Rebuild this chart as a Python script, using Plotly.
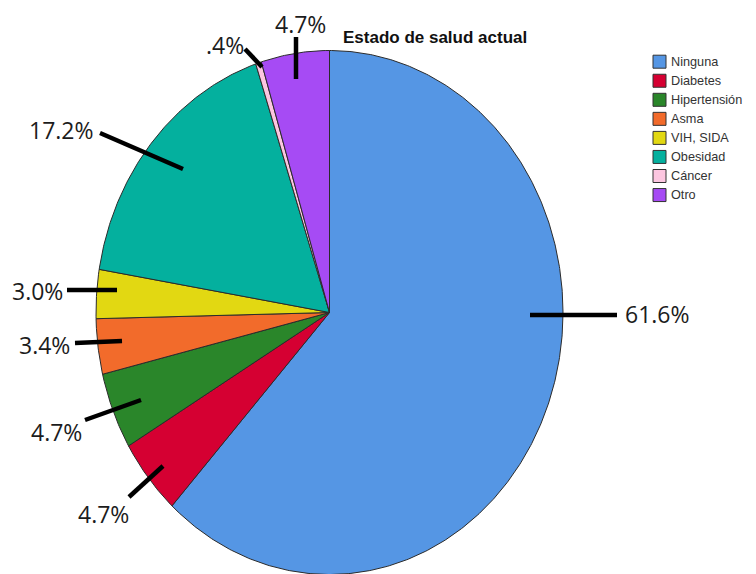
import numpy as np
import plotly.graph_objects as go

# Data: current health status (percent of respondents)
categories = ["Ninguna", "Diabetes", "Hipertensión", "Asma", "VIH, SIDA",
              "Obesidad", "Cáncer", "Otro"]
percentages = [61.6, 4.7, 4.7, 3.4, 3.0, 17.2, 0.4, 4.7]
title_text = "Estado de salud actual"

colors = ["#5596E4", "#D50032", "#2A862A", "#F26B2B", "#E2D812",
          "#04B09E", "#FCC6E0", "#A64BF4"]

# Canvas and pie geometry (pixels)
W, H = 756, 574
CX, CY = 329.5, 312.5      # pie centre
RX, RY = 233.5, 262.0      # horizontal / vertical radius (stretched pie)

# Label placement per slice: (leader inner end, leader outer end, text centre), in pixels
label_layout = [
    ((530, 315), (617, 315), (657, 314)),
    ((163, 466), (129, 497), (103, 514)),
    ((141, 400), (85, 420), (56, 432)),
    ((122, 341), (75, 343), (44, 345)),
    ((117, 290), (67, 290), (37, 291)),
    ((183, 169), (100, 133), (61, 130)),
    ((262, 67), (245, 49), (225, 45)),
    ((296, 79), (296, 37), (300, 24)),
]


def to_data(px, py):
    return (px - CX) / RX, (CY - py) / RY


def fmt_pct(v):
    s = f"{v:.1f}"
    if s.startswith("0"):
        s = s[1:]
    return s + "%"


fig = go.Figure()

# Slices: clockwise from 12 o'clock, angles proportional to each value
total = sum(percentages)
start = 0.0
for cat, val, col in zip(categories, percentages, colors):
    sweep = val / total * 2 * np.pi
    n = max(8, int(np.degrees(sweep) * 2))
    t = np.linspace(start, start + sweep, n)
    xs = np.concatenate([[0.0], np.sin(t), [0.0]])
    ys = np.concatenate([[0.0], np.cos(t), [0.0]])
    fig.add_trace(go.Scatter(
        x=xs, y=ys, mode="lines", fill="toself", fillcolor=col,
        line=dict(color="#2b2b2b", width=1), name=cat,
        hoverinfo="skip", showlegend=False,
    ))
    start += sweep

# Leader lines and percentage labels
annotations = []
for val, (p_in, p_out, p_txt) in zip(percentages, label_layout):
    x0, y0 = to_data(*p_in)
    x1, y1 = to_data(*p_out)
    fig.add_trace(go.Scatter(
        x=[x0, x1], y=[y0, y1], mode="lines",
        line=dict(color="#000000", width=4.5),
        hoverinfo="skip", showlegend=False,
    ))
    annotations.append(dict(
        x=p_txt[0] / W, y=1 - p_txt[1] / H, xref="paper", yref="paper",
        text=fmt_pct(val), showarrow=False, xanchor="center", yanchor="middle",
        font=dict(family="Open Sans", size=23, color="#1c1c1c"),
    ))

# Title
annotations.append(dict(
    x=435 / W, y=1 - 37 / H, xref="paper", yref="paper",
    text="<b>" + title_text + "</b>", showarrow=False,
    xanchor="center", yanchor="middle",
    font=dict(family="Liberation Sans", size=17, color="#111111"),
))

# Legend: swatches and category names
shapes = []
LEG_X0, LEG_Y0, LEG_STEP, SW = 653, 61.7, 19.05, 13
for i, (cat, col) in enumerate(zip(categories, colors)):
    yc = LEG_Y0 + i * LEG_STEP
    shapes.append(dict(
        type="rect", xref="paper", yref="paper",
        x0=LEG_X0 / W, x1=(LEG_X0 + SW) / W,
        y0=1 - (yc + SW / 2) / H, y1=1 - (yc - SW / 2) / H,
        fillcolor=col, line=dict(color="#333333", width=1),
    ))
    annotations.append(dict(
        x=(LEG_X0 + SW + 3) / W, y=1 - yc / H, xref="paper", yref="paper",
        text=cat, showarrow=False, xanchor="left", yanchor="middle",
        font=dict(family="Liberation Sans", size=12.7, color="#333333"),
    ))

fig.update_layout(
    width=W, height=H,
    margin=dict(l=0, r=0, t=0, b=0),
    paper_bgcolor="white", plot_bgcolor="white",
    xaxis=dict(range=[-CX / RX, (W - CX) / RX], visible=False, fixedrange=True),
    yaxis=dict(range=[(CY - H) / RY, CY / RY], visible=False, fixedrange=True),
    annotations=annotations, shapes=shapes,
    showlegend=False,
)

fig.write_html("out.html")
